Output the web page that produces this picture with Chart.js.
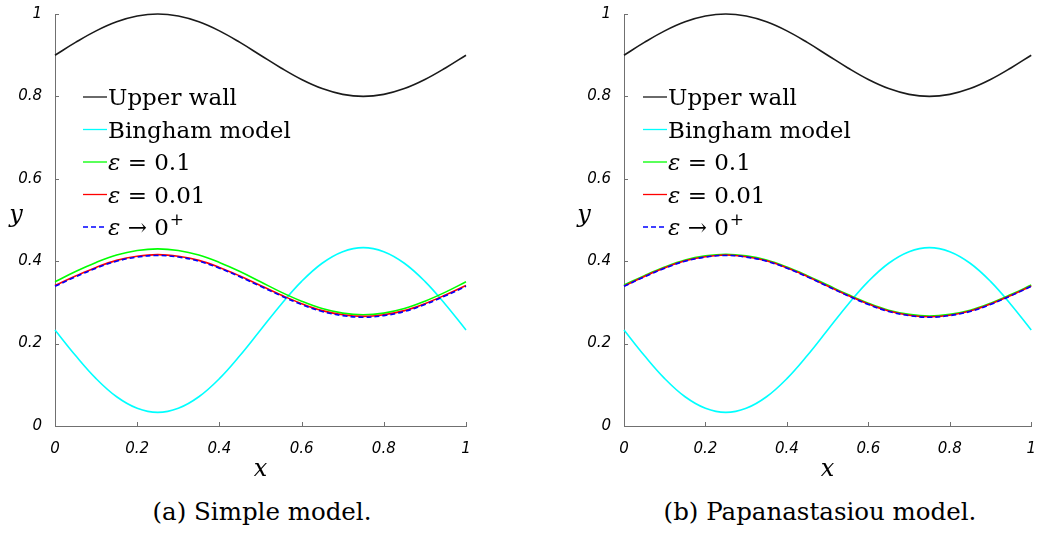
<!DOCTYPE html>
<html>
<head>
<meta charset="utf-8">
<script src="https://cdn.jsdelivr.net/npm/chart.js@4"></script>
<style>
  html, body { margin: 0; padding: 0; background: #fff; }
  body { width: 1042px; height: 535px; position: relative; overflow: hidden; }
  canvas { position: absolute; top: 0; }
  #c1 { left: 0; }
  #c2 { left: 521px; }
  .cap { position: absolute; top: 497px; font-family: "DejaVu Serif", serif; font-size: 24.5px; color: #000; white-space: nowrap; transform: translateX(-50%); }
</style>
</head>
<body>
<canvas id="c1" width="521" height="480"></canvas>
<canvas id="c2" width="521" height="480"></canvas>
<div class="cap" style="left:262px">(a) Simple model.</div>
<div class="cap" style="left:820px">(b) Papanastasiou model.</div>
<script>
const xVals = [0, 0.05, 0.1, 0.15, 0.2, 0.25, 0.3, 0.35, 0.4, 0.45, 0.5,
               0.55, 0.6, 0.65, 0.7, 0.75, 0.8, 0.85, 0.9, 0.95, 1];
const xTicks = [0, 0.2, 0.4, 0.6, 0.8, 1];
const yTicks = [0, 0.2, 0.4, 0.6, 0.8, 1];

const seriesLabels = ['Upper wall', 'Bingham model', 'ε = 0.1', 'ε = 0.01', 'ε → 0⁺'];

const upperWall = [0.900, 0.931, 0.959, 0.981, 0.995, 1.000, 0.995, 0.981, 0.959, 0.931, 0.900,
                   0.869, 0.841, 0.819, 0.805, 0.800, 0.805, 0.819, 0.841, 0.869, 0.900];
const bingham = [0.233, 0.171, 0.115, 0.071, 0.043, 0.033, 0.043, 0.071, 0.115, 0.171, 0.233,
                 0.295, 0.351, 0.395, 0.423, 0.433, 0.423, 0.395, 0.351, 0.295, 0.233];

// (a) simple model
const simpleEps01 = [0.350, 0.375, 0.397, 0.415, 0.426, 0.430, 0.426, 0.415, 0.397, 0.375, 0.350,
                     0.325, 0.303, 0.285, 0.274, 0.270, 0.274, 0.285, 0.303, 0.325, 0.350];
const simpleEps001 = [0.341, 0.364, 0.385, 0.402, 0.412, 0.416, 0.412, 0.402, 0.385, 0.364, 0.341,
                      0.318, 0.297, 0.280, 0.270, 0.266, 0.270, 0.280, 0.297, 0.318, 0.341];
const simpleEps0 = [0.339, 0.362, 0.383, 0.400, 0.410, 0.414, 0.410, 0.400, 0.383, 0.362, 0.339,
                    0.316, 0.295, 0.278, 0.268, 0.264, 0.268, 0.278, 0.295, 0.316, 0.339];

// (b) Papanastasiou model
const papaEps01 = [0.342, 0.365, 0.386, 0.403, 0.413, 0.417, 0.413, 0.403, 0.386, 0.365, 0.342,
                   0.319, 0.298, 0.281, 0.271, 0.267, 0.271, 0.281, 0.298, 0.319, 0.342];
const papaEps001 = [0.340, 0.363, 0.384, 0.401, 0.411, 0.415, 0.411, 0.401, 0.384, 0.363, 0.340,
                    0.317, 0.296, 0.279, 0.269, 0.265, 0.269, 0.279, 0.296, 0.317, 0.340];
const papaEps0 = [0.339, 0.362, 0.383, 0.400, 0.410, 0.414, 0.410, 0.400, 0.383, 0.362, 0.339,
                  0.316, 0.295, 0.278, 0.268, 0.264, 0.268, 0.278, 0.295, 0.316, 0.339];

const colors = ['#1a1a1a', '#00ffff', '#00ff00', '#ff0000', '#0000ff'];
const dashes = [[], [], [], [], [5, 3]];

const serif = '"DejaVu Serif", serif';
const sans = '"DejaVu Sans", sans-serif';

function pts(ys) {
  return xVals.map((x, i) => ({ x: x, y: ys[i] }));
}

const inwardTicks = {
  id: 'inwardTicks',
  afterDraw(chart) {
    const { ctx, chartArea: a } = chart;
    const sx = chart.scales.x, sy = chart.scales.y;
    ctx.save();
    ctx.strokeStyle = '#707070';
    ctx.lineWidth = 1;
    ctx.beginPath();
    sx.ticks.forEach(t => {
      const px = Math.round(sx.getPixelForValue(t.value)) + 0.5;
      ctx.moveTo(px, a.bottom);
      ctx.lineTo(px, a.bottom - 4);
    });
    sy.ticks.forEach(t => {
      const py = Math.round(sy.getPixelForValue(t.value)) + 0.5;
      ctx.moveTo(a.left, py);
      ctx.lineTo(a.left + 4, py);
    });
    ctx.stroke();
    ctx.restore();
  }
};

// legend inside the plot + unrotated axis titles
const annot = {
  id: 'annot',
  afterDraw(chart, args, opts) {
    const { ctx, chartArea: a } = chart;
    ctx.save();
    ctx.fillStyle = '#000';
    ctx.textBaseline = 'alphabetic';
    ctx.font = 'italic 24px ' + serif;
    ctx.textAlign = 'center';
    ctx.fillText('x', (a.left + a.right) / 2, 476);
    ctx.fillText('y', a.left - opts.yTitleOff, 222);

    ctx.textAlign = 'left';
    chart.data.datasets.forEach((ds, i) => {
      const y = 97 + i * 32.5;
      const x0 = a.left + opts.legendOff;
      ctx.strokeStyle = ds.borderColor;
      ctx.lineWidth = 1.3;
      ctx.setLineDash(ds.borderDash || []);
      ctx.beginPath();
      ctx.moveTo(x0, y);
      ctx.lineTo(x0 + 24, y);
      ctx.stroke();
      ctx.setLineDash([]);
      let tx = x0 + 25;
      const base = y + 8;
      let label = ds.label;
      if (label.startsWith('ε')) {
        ctx.font = 'italic 23px ' + serif;
        ctx.fillText('ε', tx, base);
        tx += ctx.measureText('ε').width;
        label = label.slice(1);
      }
      let sup = '';
      if (label.endsWith('⁺')) { sup = '+'; label = label.slice(0, -1); }
      ctx.font = '23px ' + serif;
      ctx.fillText(label, tx, base);
      tx += ctx.measureText(label).width + 1;
      if (sup) {
        ctx.font = '17px ' + serif;
        ctx.fillText(sup, tx, base - 10);
      }
    });
    ctx.restore();
  }
};

function makeChart(id, series, axisWidth, padRight, legendOff, yTitleOff) {
  const datasets = series.map((ys, i) => ({
    label: seriesLabels[i],
    data: pts(ys),
    borderColor: colors[i],
    borderWidth: 1.6,
    borderDash: dashes[i],
    pointRadius: 0,
    tension: 0.4,
    fill: false,
    clip: false,
    order: series.length - i
  }));
  const tickFont = { family: sans, size: 15, style: 'italic' };
  return new Chart(document.getElementById(id), {
    type: 'line',
    data: { datasets: datasets },
    options: {
      responsive: false,
      animation: false,
      events: [],
      layout: { padding: { top: 14, right: padRight, left: 0, bottom: 0 } },
      plugins: {
        legend: { display: false },
        tooltip: { enabled: false },
        annot: { legendOff: legendOff, yTitleOff: yTitleOff }
      },
      scales: {
        x: {
          type: 'linear', min: 0, max: 1,
          afterFit: s => { s.height = 54; },
          afterBuildTicks: s => { s.ticks = xTicks.map(v => ({ value: v })); },
          grid: { display: false },
          border: { display: true, color: '#707070', width: 1 },
          ticks: { padding: 6, color: '#000', maxRotation: 0, font: tickFont, callback: v => String(v) }
        },
        y: {
          type: 'linear', min: 0, max: 1,
          afterFit: s => { s.width = axisWidth; },
          afterBuildTicks: s => { s.ticks = yTicks.map(v => ({ value: v })); },
          grid: { display: false },
          border: { display: true, color: '#707070', width: 1 },
          ticks: { padding: 5, color: '#000', font: tickFont, callback: v => String(v) }
        }
      }
    },
    plugins: [inwardTicks, annot]
  });
}

makeChart('c1', [upperWall, bingham, simpleEps01, simpleEps001, simpleEps0], 55, 55, 28, 39);
makeChart('c2', [upperWall, bingham, papaEps01, papaEps001, papaEps0], 103, 7, 19, 40);
</script>
</body>
</html>
